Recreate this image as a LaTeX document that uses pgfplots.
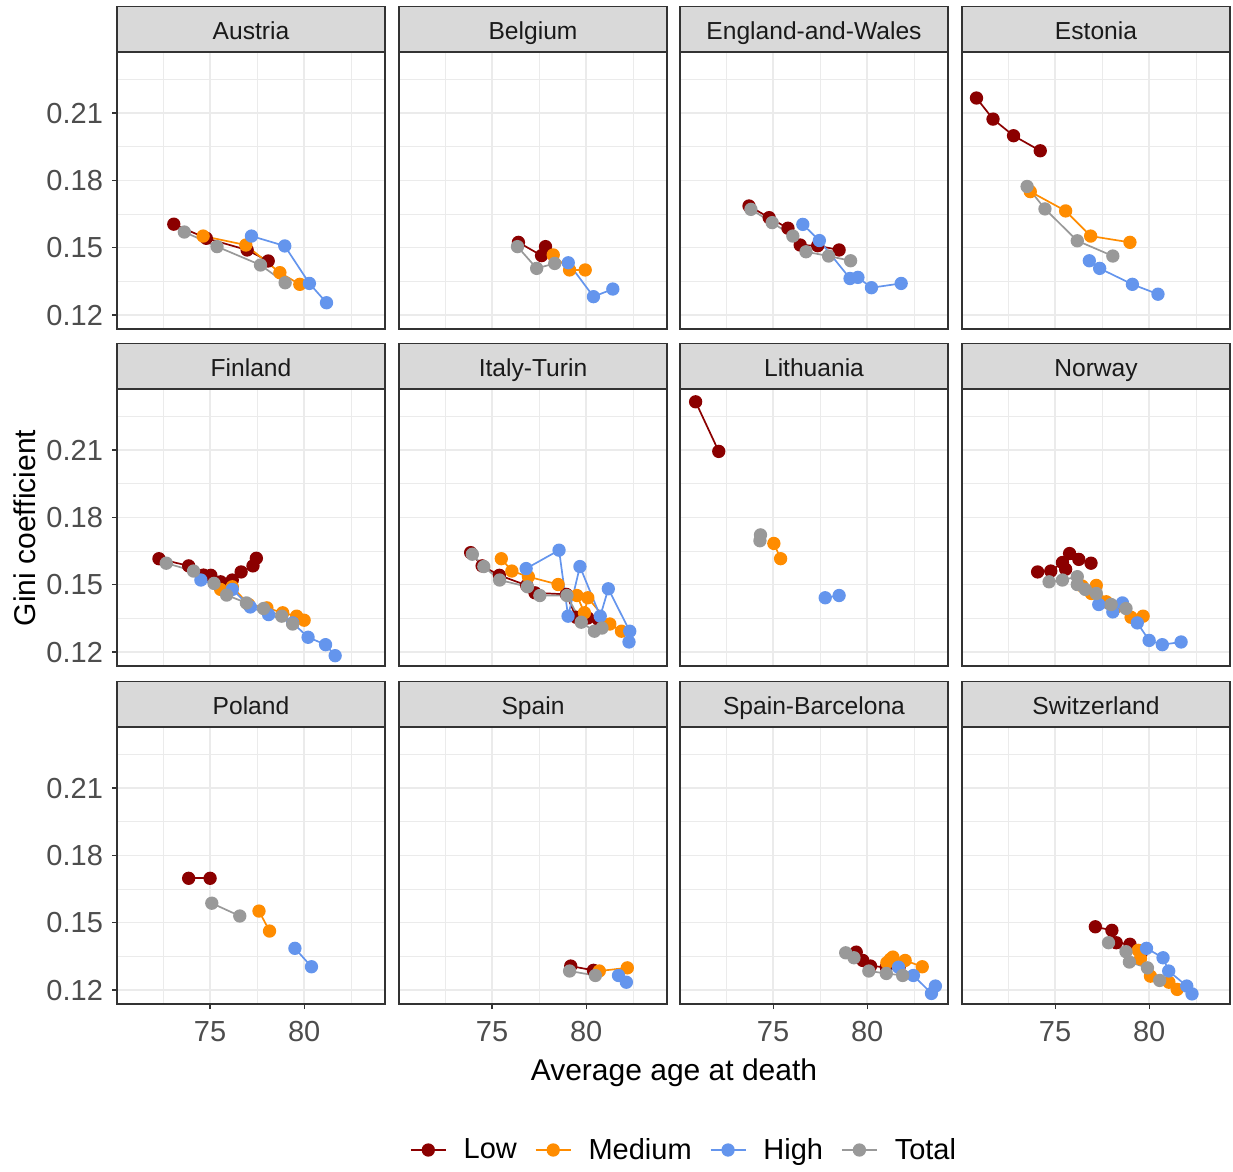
\documentclass[border=0pt]{standalone}
\usepackage{pgfplots}
\pgfplotsset{compat=1.18}
\usepackage{fontspec}
\setmainfont{Liberation Sans}
\definecolor{clow}{HTML}{8B0000}
\definecolor{cmed}{HTML}{FF8C00}
\definecolor{chigh}{HTML}{6495ED}
\definecolor{ctot}{HTML}{999999}
\definecolor{gridc}{HTML}{EBEBEB}
\definecolor{grey20}{HTML}{333333}
\definecolor{grey30}{HTML}{4D4D4D}
\definecolor{grey10}{HTML}{1A1A1A}
\definecolor{stripc}{HTML}{D9D9D9}
\pgfplotsset{
 panel/.style={
  scale only axis, width=134pt, height=138.5pt, anchor=north west,
  xmin=70.05, xmax=84.3, ymin=0.1138, ymax=0.2372,
  xtick={75,80}, ytick={0.12,0.15,0.18,0.21},
  minor xtick={72.5,77.5,82.5}, minor ytick={0.135,0.165,0.195,0.225},
  xticklabels={75,80}, yticklabels={0.12,0.15,0.18,0.21},
  xtick pos=bottom, ytick pos=left,
  grid=both,
  major grid style={draw=gridc, line width=0.7pt},
  minor grid style={draw=gridc, line width=0.55pt},
  axis line style={draw=grey20, line width=0.6pt},
  tick align=outside, major tick length=2.5pt, minor tick length=0pt,
  tick style={draw=grey20, line width=0.6pt},
  ticklabel style={font=\fontsize{14.5}{16}\selectfont, text=grey30},
  xticklabel style={yshift=-2.5pt},
  yticklabel style={xshift=-1pt},
  /pgf/number format/assume math mode=true,
  every axis title shift=0pt,
  title style={at={(0.5,1)}, anchor=south, yshift=0pt, fill=stripc, draw=grey20, line width=0.6pt, minimum width=134pt, minimum height=22.5pt, inner sep=0pt, text height=13pt, text depth=2.5pt, font=\fontsize{12.3}{14}\selectfont, text=grey10},
 },
 nox/.style={xticklabels={}, x tick style={draw=none}},
 noy/.style={yticklabels={}, y tick style={draw=none}},
 low/.style={color=clow, line width=0.85pt, mark=*, mark size=2.9pt, mark options={draw=none, fill=clow}},
 med/.style={color=cmed, line width=0.85pt, mark=*, mark size=2.9pt, mark options={draw=none, fill=cmed}},
 high/.style={color=chigh, line width=0.85pt, mark=*, mark size=2.9pt, mark options={draw=none, fill=chigh}},
 tot/.style={color=ctot, line width=0.85pt, mark=*, mark size=2.9pt, mark options={draw=none, fill=ctot}},
}
\begin{document}
\begin{tikzpicture}
\useasboundingbox (0pt,0pt) rectangle (616.5pt,-586pt);
% Row 1
\begin{axis}[panel, nox, at={(58.5pt,-26pt)}, title={Austria}]
\addplot[low] coordinates {(73.07,0.1605)(74.80,0.1542)(76.97,0.1490)(78.09,0.1441)};
\addplot[med] coordinates {(74.63,0.1552)(76.90,0.1512)(78.71,0.1389)(79.77,0.1337)};
\addplot[high] coordinates {(77.20,0.1552)(78.97,0.1508)(80.28,0.1341)(81.19,0.1255)};
\addplot[tot] coordinates {(73.63,0.1570)(75.37,0.1505)(77.68,0.1423)(78.99,0.1344)};
\end{axis}
\begin{axis}[panel, nox, noy, at={(199.5pt,-26pt)}, title={Belgium}]
\addplot[low] coordinates {(76.40,0.1524)(77.63,0.1465)(77.84,0.1505)};
\addplot[med] coordinates {(78.25,0.1468)(79.12,0.1401)(79.95,0.1401)};
\addplot[high] coordinates {(79.05,0.1433)(80.39,0.1282)(81.42,0.1316)};
\addplot[tot] coordinates {(76.35,0.1505)(77.37,0.1408)(78.33,0.1430)};
\end{axis}
\begin{axis}[panel, nox, noy, at={(340pt,-26pt)}, title={England-and-Wales}]
\addplot[low] coordinates {(73.72,0.1686)(74.79,0.1634)(75.79,0.1587)(76.44,0.1512)(77.37,0.1509)(78.51,0.1490)};
\addplot[high] coordinates {(76.58,0.1604)(77.46,0.1532)(79.09,0.1363)(79.51,0.1368)(80.23,0.1322)(81.81,0.1341)};
\addplot[tot] coordinates {(73.82,0.1671)(74.95,0.1612)(76.05,0.1552)(76.75,0.1482)(77.95,0.1463)(79.12,0.1442)};
\end{axis}
\begin{axis}[panel, nox, noy, at={(481pt,-26pt)}, title={Estonia}]
\addplot[low] coordinates {(70.82,0.2167)(71.70,0.2073)(72.79,0.1999)(74.21,0.1932)};
\addplot[med] coordinates {(73.68,0.1750)(75.56,0.1664)(76.89,0.1552)(78.98,0.1524)};
\addplot[high] coordinates {(76.82,0.1442)(77.37,0.1408)(79.11,0.1337)(80.47,0.1293)};
\addplot[tot] coordinates {(73.51,0.1773)(74.46,0.1673)(76.18,0.1531)(78.07,0.1463)};
\end{axis}
% Row 2
\begin{axis}[panel, nox, at={(58.5pt,-194.5pt)}, title={Finland}]
\addplot[low] coordinates {(72.28,0.1616)(73.86,0.1584)(74.65,0.1543)(75.04,0.1542)(75.56,0.1513)(76.18,0.1521)(76.65,0.1557)(77.28,0.1584)(77.46,0.1618)};
\addplot[med] coordinates {(75.56,0.1479)(76.18,0.1491)(77.05,0.1412)(78.02,0.1397)(78.86,0.1375)(79.60,0.1360)(80.00,0.1342)};
\addplot[high] coordinates {(74.51,0.1521)(76.18,0.1479)(77.14,0.1401)(78.11,0.1367)(79.39,0.1330)(80.21,0.1266)(81.14,0.1233)(81.65,0.1184)};
\addplot[tot] coordinates {(72.67,0.1596)(74.12,0.1561)(75.21,0.1506)(75.88,0.1454)(76.93,0.1419)(77.84,0.1394)(78.81,0.1360)(79.39,0.1325)};
\end{axis}
\begin{axis}[panel, nox, noy, at={(199.5pt,-194.5pt)}, title={Italy-Turin}]
\addplot[low] coordinates {(73.86,0.1643)(74.47,0.1584)(75.39,0.1542)(76.84,0.1497)(77.28,0.1464)(78.95,0.1457)(79.47,0.1355)(80.09,0.1352)(80.65,0.1345)};
\addplot[med] coordinates {(75.49,0.1616)(76.05,0.1561)(76.93,0.1536)(78.51,0.1501)(79.51,0.1452)(79.91,0.1375)(80.09,0.1442)(81.26,0.1325)(81.88,0.1293)};
\addplot[high] coordinates {(76.81,0.1572)(78.56,0.1654)(79.04,0.1360)(79.67,0.1581)(80.75,0.1360)(81.18,0.1482)(82.32,0.1293)(82.28,0.1245)};
\addplot[tot] coordinates {(73.95,0.1636)(74.56,0.1581)(75.40,0.1521)(76.88,0.1491)(77.54,0.1452)(78.98,0.1452)(79.74,0.1333)(80.44,0.1293)(80.84,0.1307)};
\end{axis}
\begin{axis}[panel, nox, noy, at={(340pt,-194.5pt)}, title={Lithuania}]
\addplot[low] coordinates {(70.88,0.2315)(72.11,0.2094)};
\addplot[med] coordinates {(75.04,0.1684)(75.40,0.1616)};
\addplot[high] coordinates {(77.77,0.1442)(78.51,0.1452)};
\addplot[tot] coordinates {(74.30,0.1696)(74.33,0.1722)};
\end{axis}
\begin{axis}[panel, nox, noy, at={(481pt,-194.5pt)}, title={Norway}]
\addplot[low] coordinates {(74.07,0.1557)(74.77,0.1561)(75.39,0.1599)(75.56,0.1569)(75.77,0.1639)(76.26,0.1613)(76.91,0.1596)};
\addplot[med] coordinates {(76.44,0.1494)(76.93,0.1461)(77.19,0.1497)(77.72,0.1424)(78.19,0.1397)(79.04,0.1355)(79.68,0.1360)};
\addplot[high] coordinates {(77.32,0.1412)(78.07,0.1379)(78.58,0.1419)(79.37,0.1330)(80.00,0.1252)(80.70,0.1233)(81.70,0.1245)};
\addplot[tot] coordinates {(74.68,0.1513)(75.39,0.1521)(76.18,0.1536)(76.18,0.1501)(76.61,0.1479)(77.19,0.1461)(77.98,0.1412)(78.77,0.1394)};
\end{axis}
% Row 3
\begin{axis}[panel, at={(58.5pt,-363.5pt)}, title={Poland}]
\addplot[low] coordinates {(73.86,0.1698)(75.00,0.1698)};
\addplot[med] coordinates {(77.60,0.1552)(78.16,0.1463)};
\addplot[high] coordinates {(79.51,0.1386)(80.39,0.1304)};
\addplot[tot] coordinates {(75.09,0.1587)(76.58,0.1530)};
\end{axis}
\begin{axis}[panel, noy, at={(199.5pt,-363.5pt)}, title={Spain}]
\addplot[low] coordinates {(79.18,0.1307)(80.39,0.1288)};
\addplot[med] coordinates {(80.70,0.1285)(82.19,0.1299)};
\addplot[high] coordinates {(81.72,0.1265)(82.14,0.1235)};
\addplot[tot] coordinates {(79.12,0.1285)(80.49,0.1265)};
\end{axis}
\begin{axis}[panel, noy, at={(340pt,-363.5pt)}, title={Spain-Barcelona}]
\addplot[low] coordinates {(79.42,0.1369)(79.77,0.1332)(80.18,0.1307)(81.02,0.1302)(81.70,0.1302)};
\addplot[med] coordinates {(81.05,0.1322)(81.23,0.1337)(81.37,0.1347)(82.02,0.1332)(82.93,0.1304)};
\addplot[high] coordinates {(81.67,0.1302)(82.46,0.1265)(83.42,0.1185)(83.63,0.1218)};
\addplot[tot] coordinates {(78.86,0.1366)(79.30,0.1344)(80.09,0.1285)(81.02,0.1274)(81.89,0.1265)};
\end{axis}
\begin{axis}[panel, noy, at={(481pt,-363.5pt)}, title={Switzerland}]
\addplot[low] coordinates {(77.14,0.1482)(78.02,0.1466)(78.25,0.1411)(78.98,0.1404)(79.60,0.1369)};
\addplot[med] coordinates {(79.42,0.1377)(79.54,0.1340)(80.07,0.1262)(81.05,0.1235)(81.49,0.1203)};
\addplot[high] coordinates {(79.86,0.1386)(80.74,0.1344)(81.04,0.1285)(82.00,0.1218)(82.28,0.1183)};
\addplot[tot] coordinates {(77.84,0.1411)(78.77,0.1371)(78.95,0.1325)(79.91,0.1299)(80.56,0.1243)};
\end{axis}
% Legend
\begin{axis}[hide axis, scale only axis, width=10pt, height=10pt, xmin=0, xmax=1, ymin=0, ymax=1,
  at={(341.5pt,-575pt)}, anchor=center, legend columns=4,
  legend style={at={(0.5,0.5)}, anchor=center, draw=none, fill=none,
    font=\fontsize{14.5}{16}\selectfont,
    /tikz/every odd column/.append style={column sep=8.5pt},
    /tikz/every even column/.append style={column sep=9pt},
    nodes={inner sep=0pt}},
  legend image code/.code={\draw[mark repeat=2, mark phase=2] plot coordinates {(0pt,0pt)(8.75pt,0pt)(17.5pt,0pt)};}]
\addlegendimage{low}\addlegendentry{Low}
\addlegendimage{med}\addlegendentry{Medium}
\addlegendimage{high}\addlegendentry{High}
\addlegendimage{tot}\addlegendentry{Total}
\end{axis}
\node[rotate=90, font=\fontsize{15}{17}\selectfont] at (12.5pt,-264pt) {Gini coefficient};
\node[font=\fontsize{15}{17}\selectfont] at (337pt,-536.5pt) {Average age at death};
\end{tikzpicture}
\end{document}
